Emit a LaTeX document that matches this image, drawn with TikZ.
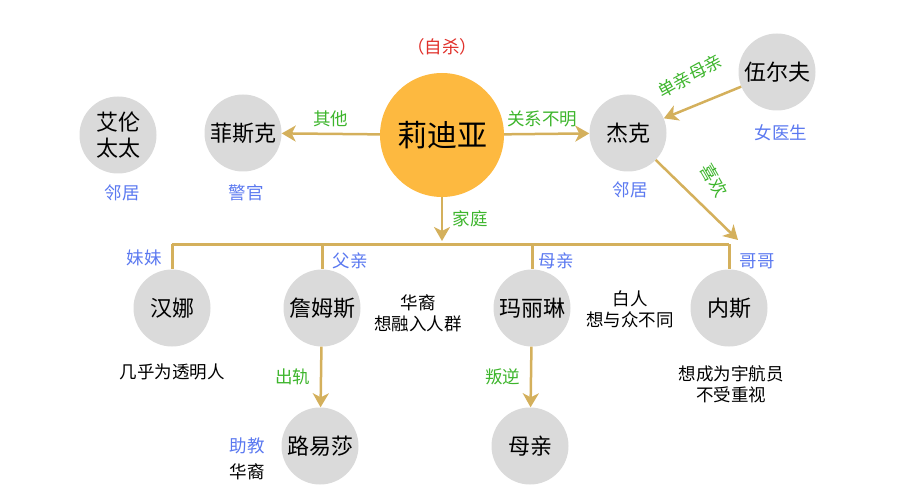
\documentclass[tikz,border=0pt]{standalone}
\usepackage{fontspec}
\setmainfont{Noto Sans CJK SC}
\usetikzlibrary{arrows.meta}
\definecolor{gold}{HTML}{D4B05C}
\definecolor{lgray}{HTML}{DADADA}
\definecolor{orng}{HTML}{FDB940}
\definecolor{grn}{HTML}{3DB52C}
\definecolor{blu}{HTML}{5A78F0}
\definecolor{rd}{HTML}{E0302A}
\tikzset{
 person/.style={circle,fill=lgray,minimum size=77pt,inner sep=0pt,font=\fontsize{22}{24}\selectfont},
 conn/.style={draw=gold,line width=2.5pt,-{Stealth[length=14pt,width=16pt,inset=4pt]}},
 bus/.style={draw=gold,line width=3pt},
 glab/.style={text=grn,font=\fontsize{17.5}{19}\selectfont},
 blab/.style={text=blu,font=\fontsize{17.5}{19}\selectfont},
 klab/.style={text=black,font=\fontsize{17.5}{21}\selectfont,align=center},
}
\begin{document}
\begin{tikzpicture}[x=1pt,y=-1pt]
\useasboundingbox (0,0) rectangle (900,500);
\node[circle,fill=orng,minimum size=124pt,inner sep=0pt,font=\fontsize{30}{32}\selectfont] (lyd) at (442,135) {莉迪亚};
\node[person,align=center,font=\fontsize{22}{26}\selectfont] (allen) at (118,135) {艾伦\\太太};
\node[person] (fisk) at (243,133) {菲斯克};
\node[person] (jack) at (628,133) {杰克};
\node[person] (wolf) at (777,72) {伍尔夫};
\node[person] (hanna) at (172,308) {汉娜};
\node[person] (james) at (322,308) {詹姆斯};
\node[person] (mar) at (532,308) {玛丽琳};
\node[person] (nath) at (729,308) {内斯};
\node[person] (lou) at (320,446) {路易莎};
\node[person] (mom) at (530,446) {母亲};

\node[text=rd,font=\fontsize{17.5}{19}\selectfont] (sui) at (442,47) {（自杀）};
\node[blab] (n1) at (122,193) {邻居};
\node[blab] (n2) at (246,193) {警官};
\node[blab] (n3) at (630,190) {邻居};
\node[blab] (n4) at (781,133) {女医生};
\node[blab] (sis) at (144,258) {妹妹};
\node[blab] (dad) at (350,261) {父亲};
\node[blab] (mot) at (556,261) {母亲};
\node[blab] (bro) at (757,261) {哥哥};
\node[klab] (tj) at (418,313) {华裔\\想融入人群};
\node[klab] (tm) at (630,309) {白人\\想与众不同};
\node[klab] (th) at (172,372) {几乎为透明人};
\node[klab] (tn) at (731,384) {想成为宇航员\\不受重视};
\node[blab] (zj) at (247,446) {助教};
\node[klab] (hy) at (247,472) {华裔};

\draw[conn] (lyd) -- node[glab,above=2pt]{其他} (fisk);
\draw[conn] (lyd) -- node[glab,above=2pt,pos=0.45]{关系不明} (jack);
\draw[conn] (wolf) -- (jack);
\node[glab,rotate=29] (smom) at (690,76) {单亲母亲};
\coordinate (nt) at (738,240);
\draw[conn] (jack) -- (nt);
\node[glab,rotate=-60] (like) at (714,180) {喜欢};
\coordinate (fam) at (442,241);
\draw[conn] (lyd) -- node[glab,right=6pt]{家庭} (fam);
\coordinate (bl) at (172,244);
\coordinate (br) at (729,244);
\draw[bus] (bl) -- (br);
\draw[bus] (bl) -- (hanna);
\draw[bus] (322,244) -- (james);
\draw[bus] (532,244) -- (mar);
\draw[bus] (br) -- (nath);
\draw[conn] (james) -- node[glab,left=6pt]{出轨} (lou);
\draw[conn] (mar) -- node[glab,left=6pt]{叛逆} (mom);
\end{tikzpicture}
\end{document}
